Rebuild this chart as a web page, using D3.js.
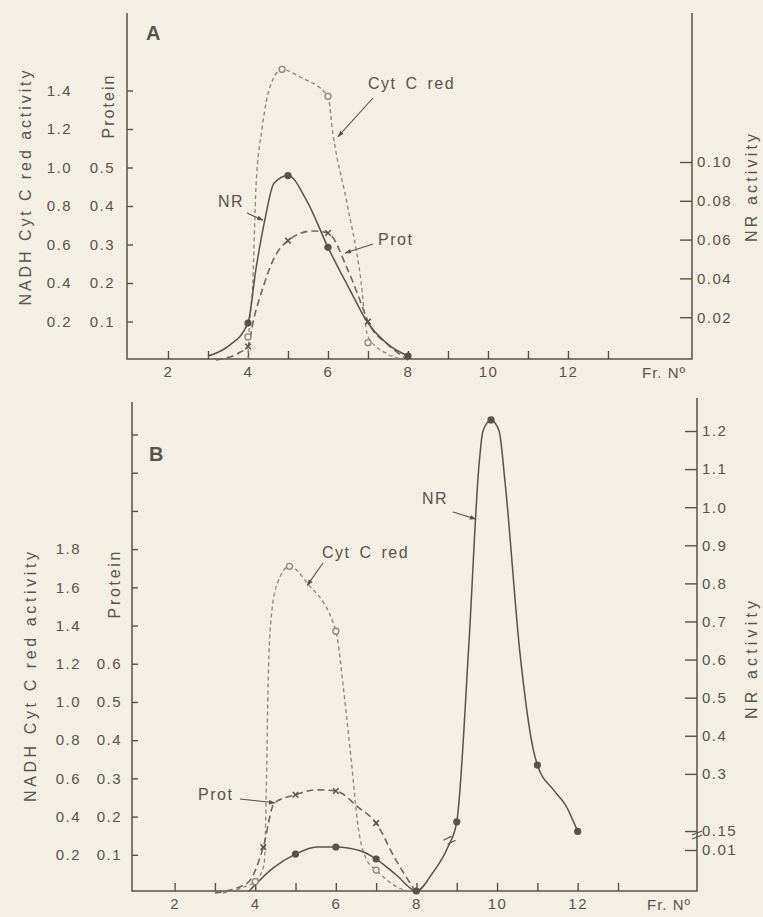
<!DOCTYPE html>
<html>
<head>
<meta charset="utf-8">
<title>Fraction profiles A and B</title>
<script src="https://d3js.org/d3.v7.min.js"></script>
<style>
  body { margin: 0; background-color: #f3efe4; }
  svg { display: block; }
  text { font-family: "Liberation Sans", Arial, sans-serif; fill: #58534b; }
</style>
</head>
<body>
<div id="chart"></div>
<script>
// fraction number axis
var fracTicks = [2, 3, 4, 5, 6, 7, 8, 9, 10, 11, 12, 13];
var fracLabels = [2, 4, 6, 8, 10, 12];

// ---- panel A ----
var aNadhTicks = [0.2, 0.4, 0.6, 0.8, 1.0, 1.2, 1.4];
var aProtTicks = [0.1, 0.2, 0.3, 0.4, 0.5];
var aNrTicks = [0.02, 0.04, 0.06, 0.08, 0.10];

// measured points [fraction, value]
var aCytPoints = [[4, 0.12], [4.85, 1.51], [6, 1.37], [7, 0.09]];
var aProtPoints = [[4, 0.035], [5, 0.31], [6, 0.33], [7, 0.1]];
var aNrPoints = [[4, 0.017], [5, 0.093], [6, 0.056], [8, 0]];
// hand drawn curves
var aCytCurve = [[4, 0], [4.02, 0.12], [4.12, 0.4], [4.2, 0.9], [4.35, 1.2], [4.55, 1.42], [4.85, 1.51],
  [5.3, 1.47], [6, 1.37], [6.12, 1.18], [6.46, 0.83], [6.8, 0.45], [7, 0.12], [7.5, 0.03], [8, 0]];
var aProtCurve = [[3.2, 0], [3.8, 0.02], [4, 0.035], [4.13, 0.1], [4.38, 0.19], [4.63, 0.26], [5, 0.31],
  [5.6, 0.335], [6, 0.33], [6.47, 0.24], [6.8, 0.155], [7, 0.1], [7.5, 0.04], [8, 0]];
var aNrCurve = [[3.0, 0], [3.5, 0.005], [4, 0.017], [4.2, 0.045], [4.42, 0.07], [4.65, 0.089], [5, 0.093],
  [5.47, 0.08], [6, 0.056], [6.55, 0.034], [7, 0.017], [7.5, 0.006], [8, 0]];

// ---- panel B ----
var bNadhTicks = [0.2, 0.4, 0.6, 0.8, 1.0, 1.2, 1.4, 1.6, 1.8];
var bNadhExtraTicks = [2.0, 2.2, 2.4];
var bProtTicks = [0.1, 0.2, 0.3, 0.4, 0.5, 0.6];
var bNrTicks = [0.01, 0.15, 0.3, 0.4, 0.5, 0.6, 0.7, 0.8, 0.9, 1.0, 1.1, 1.2];

var bCytPoints = [[4, 0.06], [4.85, 1.71], [6, 1.37], [7, 0.12]];
var bProtPoints = [[4.2, 0.12], [5, 0.257], [6, 0.267], [7, 0.183]];
var bNrPoints = [[5, 0.009], [6, 0.032], [7, 0.0078], [8, 0], [9, 0.174], [9.85, 1.229], [11, 0.323], [12, 0.147]];
var bCytCurve = [[3.2, 0], [3.7, 0.03], [4, 0.06], [4.22, 0.15], [4.28, 0.6], [4.32, 1.1], [4.4, 1.45],
  [4.55, 1.62], [4.85, 1.71], [5.3, 1.62], [6, 1.37], [6.2, 1.05], [6.38, 0.7], [6.55, 0.35],
  [6.75, 0.18], [7, 0.12], [7.45, 0.04], [8, 0]];
var bProtCurve = [[3.0, 0], [3.8, 0.026], [4.2, 0.12], [4.47, 0.235], [5, 0.257], [5.5, 0.27], [6, 0.267],
  [6.55, 0.225], [7, 0.183], [7.45, 0.094], [8, 0]];
var bNrCurve = [[3.85, 0], [4.44, 0.0056], [5, 0.009], [5.53, 0.032], [6, 0.032], [6.6, 0.0098], [7, 0.0078],
  [7.5, 0.0039], [8, 0], [8.4, 0.0044], [8.78, 0.032], [9, 0.174], [9.3, 0.64], [9.55, 1.108], [9.65, 1.2],
  [9.85, 1.229], [10.05, 1.2], [10.2, 1.063], [10.57, 0.615], [10.9, 0.363], [11, 0.323], [11.4, 0.258],
  [11.7, 0.218], [12, 0.147]];

var W = 763, H = 917;
var ink = "#57524a", light = "#8b867c", bg = "#f3efe4";

var svg = d3.select("#chart").append("svg")
  .attr("width", W)
  .attr("height", H);

svg.append("rect").attr("width", W).attr("height", H).attr("fill", bg);

svg.append("defs").append("marker")
  .attr("id", "arrow")
  .attr("viewBox", "0 0 10 10")
  .attr("refX", 9).attr("refY", 5)
  .attr("markerWidth", 6).attr("markerHeight", 6)
  .attr("orient", "auto")
  .append("path")
  .attr("d", "M0,1.5L10,5L0,8.5Z")
  .attr("fill", ink);

var panels = [
  {
    name: "A", nameX: 146, nameY: 40,
    x: d3.scaleLinear().domain([0.975, 15.1]).range([127, 692]),
    top: 13, rightTop: 13, base: 359,
    yNadh: d3.scaleLinear().domain([0, 1.8]).range([360, 13.5]),
    yProt: d3.scaleLinear().domain([0, 0.9]).range([360, 13.5]),
    yNr: d3.scaleLinear().domain([0, 0.10]).range([356, 162]),
    nadhTicks: aNadhTicks, extraTicks: [], protTicks: aProtTicks, nrTicks: aNrTicks,
    nrFormat: d3.format(".2f"),
    nadhPad: 55, protPad: 12,
    titleY: 188, titleX: 25, titleLen: 235,
    protTitle: [108, 107, 63],
    nrTitle: [751, 188, 108],
    cyt: [aCytCurve, aCytPoints], prot: [aProtCurve, aProtPoints], nr: [aNrCurve, aNrPoints],
    notes: [
      { text: "Cyt C red", at: [368, 89], tail: [373, 98], tip: [6.25, 1.16], axis: "nadh" },
      { text: "NR", at: [218, 207], tail: [247, 213], tip: [4.375, 0.070], axis: "nr" },
      { text: "Prot", at: [378, 245], tail: [373, 244], tip: [6.43, 0.278], axis: "prot" }
    ]
  },
  {
    name: "B", nameX: 149, nameY: 461,
    x: d3.scaleLinear().domain([0.943, 14.96]).range([132, 697]),
    top: 402, rightTop: 398, base: 891,
    yNadh: d3.scaleLinear().domain([0, 2.57]).range([893, 402]),
    yProt: d3.scaleLinear().domain([0, 1.285]).range([893, 402]),
    yNr: d3.scaleLinear().domain([0, 0.01, 0.15, 1.2]).range([891, 850, 831, 431]),
    nadhTicks: bNadhTicks, extraTicks: bNadhExtraTicks, protTicks: bProtTicks, nrTicks: bNrTicks,
    nrFormat: function(d) { return d < 0.2 ? d3.format(".2f")(d) : d3.format(".1f")(d); },
    nadhPad: 51, protPad: 10,
    titleY: 677, titleX: 30, titleLen: 250,
    protTitle: [114, 585, 67],
    nrTitle: [751, 660, 118],
    cyt: [bCytCurve, bCytPoints], prot: [bProtCurve, bProtPoints], nr: [bNrCurve, bNrPoints],
    notes: [
      { text: "Cyt C red", at: [322, 558], tail: [323, 563], tip: [5.29, 1.61], axis: "nadh" },
      { text: "Prot", at: [198, 800], tail: [240, 799], tip: [4.49, 0.236], axis: "prot" },
      { text: "NR", at: [422, 504], tail: [453, 512], tip: [9.47, 0.969], axis: "nr" }
    ],
    curveBreak: [8.82, 0.06],
    axisBreak: 0.15
  }
];

panels.forEach(drawPanel);

function drawPanel(p) {
  var g = svg.append("g");
  var left = p.x.range()[0], right = p.x.range()[1];

  // frame: left, bottom, right
  g.append("path")
    .attr("d", "M" + left + "," + p.top + "V" + p.base + "H" + right + "V" + p.rightTop)
    .attr("fill", "none").attr("stroke", ink).attr("stroke-width", 1.5);

  // bottom axis
  var xAxis = g.append("g")
    .attr("transform", "translate(0," + p.base + ")")
    .call(d3.axisBottom(p.x)
      .tickValues(fracTicks)
      .tickSizeInner(-8).tickSizeOuter(0).tickPadding(7)
      .tickFormat(function(d) { return fracLabels.indexOf(d) >= 0 ? d : ""; }));
  styleAxis(xAxis);

  // left axis: NADH cyt c red column
  var yAxis1 = g.append("g")
    .attr("transform", "translate(" + left + ",0)")
    .call(d3.axisLeft(p.yNadh)
      .tickValues(p.nadhTicks.concat(p.extraTicks))
      .tickSizeInner(-6).tickSizeOuter(0).tickPadding(p.nadhPad)
      .tickFormat(function(d) { return p.extraTicks.indexOf(d) >= 0 ? "" : d3.format(".1f")(d); }));
  styleAxis(yAxis1);

  // left axis: protein column
  var yAxis2 = g.append("g")
    .attr("transform", "translate(" + left + ",0)")
    .call(d3.axisLeft(p.yProt)
      .tickValues(p.protTicks)
      .tickSize(0).tickPadding(p.protPad)
      .tickFormat(d3.format(".1f")));
  styleAxis(yAxis2);

  // right axis: NR activity
  var yAxis3 = g.append("g")
    .attr("transform", "translate(" + right + ",0)")
    .call(d3.axisRight(p.yNr)
      .tickValues(p.nrTicks)
      .tickSizeInner(-12).tickSizeOuter(0).tickPadding(5)
      .tickFormat(p.nrFormat));
  styleAxis(yAxis3);

  if (p.axisBreak) {
    var yb = p.yNr(p.axisBreak);
    [2, 6].forEach(function(o) {
      g.append("line")
        .attr("x1", right - 5).attr("y1", yb + o + 2)
        .attr("x2", right + 5).attr("y2", yb + o - 2)
        .attr("stroke", ink).attr("stroke-width", 1.3);
    });
  }

  // axis titles
  vtext(g, "NADH  Cyt C red  activity", p.titleX, p.titleY, p.titleLen);
  vtext(g, "Protein", p.protTitle[0], p.protTitle[1], p.protTitle[2]);
  vtext(g, "NR  activity", p.nrTitle[0], p.nrTitle[1], p.nrTitle[2]);

  g.append("text")
    .attr("x", right - 6).attr("y", p.base + 19)
    .attr("text-anchor", "end")
    .style("font-size", "15px").style("letter-spacing", "1px")
    .text("Fr. N\u00BA");

  g.append("text")
    .attr("x", p.nameX).attr("y", p.nameY)
    .style("font-size", "20px").style("font-weight", "bold")
    .text(p.name);

  // curves
  var lineFor = function(y) {
    return d3.line()
      .x(function(d) { return p.x(d[0]); })
      .y(function(d) { return y(d[1]); })
      .curve(d3.curveMonotoneX);
  };

  g.append("path").datum(p.cyt[0])
    .attr("d", lineFor(p.yNadh))
    .attr("fill", "none").attr("stroke", light)
    .attr("stroke-width", 1.3).attr("stroke-dasharray", "4,3");

  g.append("path").datum(p.prot[0])
    .attr("d", lineFor(p.yProt))
    .attr("fill", "none").attr("stroke", "#6d685f")
    .attr("stroke-width", 1.6).attr("stroke-dasharray", "7,4");

  g.append("path").datum(p.nr[0])
    .attr("d", lineFor(p.yNr))
    .attr("fill", "none").attr("stroke", ink)
    .attr("stroke-width", 1.5);

  if (p.curveBreak) {
    var cx = p.x(p.curveBreak[0]), cy = p.yNr(p.curveBreak[1]);
    [-2, 2].forEach(function(o) {
      g.append("line")
        .attr("x1", cx + o - 4).attr("y1", cy + o - 1)
        .attr("x2", cx + o + 4).attr("y2", cy + o - 5)
        .attr("stroke", ink).attr("stroke-width", 1.3);
    });
  }

  // markers
  g.selectAll(".cyt").data(p.cyt[1]).enter().append("circle")
    .attr("cx", function(d) { return p.x(d[0]); })
    .attr("cy", function(d) { return p.yNadh(d[1]); })
    .attr("r", 3).attr("fill", bg).attr("stroke", light).attr("stroke-width", 1.3);

  g.selectAll(".prot").data(p.prot[1]).enter().append("path")
    .attr("transform", function(d) { return "translate(" + p.x(d[0]) + "," + p.yProt(d[1]) + ")"; })
    .attr("d", d3.symbol().type(d3.symbolX).size(22))
    .attr("fill", "none").attr("stroke", ink).attr("stroke-width", 1.5);

  g.selectAll(".nr").data(p.nr[1]).enter().append("circle")
    .attr("cx", function(d) { return p.x(d[0]); })
    .attr("cy", function(d) { return p.yNr(d[1]); })
    .attr("r", 3.6).attr("fill", ink);

  // labels with leader arrows
  p.notes.forEach(function(n) {
    var ys = n.axis === "nadh" ? p.yNadh : n.axis === "prot" ? p.yProt : p.yNr;
    g.append("line")
      .attr("x1", n.tail[0]).attr("y1", n.tail[1])
      .attr("x2", p.x(n.tip[0])).attr("y2", ys(n.tip[1]))
      .attr("stroke", ink).attr("stroke-width", 1.1)
      .attr("marker-end", "url(#arrow)");
    g.append("text")
      .attr("x", n.at[0]).attr("y", n.at[1])
      .style("font-size", "16px").style("letter-spacing", "1.5px").style("word-spacing", "3px")
      .text(n.text);
  });
}

function styleAxis(a) {
  a.select(".domain").remove();
  a.selectAll(".tick line").attr("stroke", ink).attr("stroke-width", 1.4);
  a.selectAll(".tick text")
    .style("font-family", "'Liberation Sans', Arial, sans-serif")
    .style("font-size", "15px")
    .style("letter-spacing", "1.5px")
    .attr("fill", "#58534b");
}

function vtext(g, s, x, y, len) {
  g.append("text")
    .attr("transform", "translate(" + x + "," + y + ") rotate(-90)")
    .attr("text-anchor", "middle")
    .attr("dy", "0.35em")
    .attr("textLength", len)
    .attr("lengthAdjust", "spacing")
    .style("font-size", "16px")
    .text(s);
}
</script>
</body>
</html>
